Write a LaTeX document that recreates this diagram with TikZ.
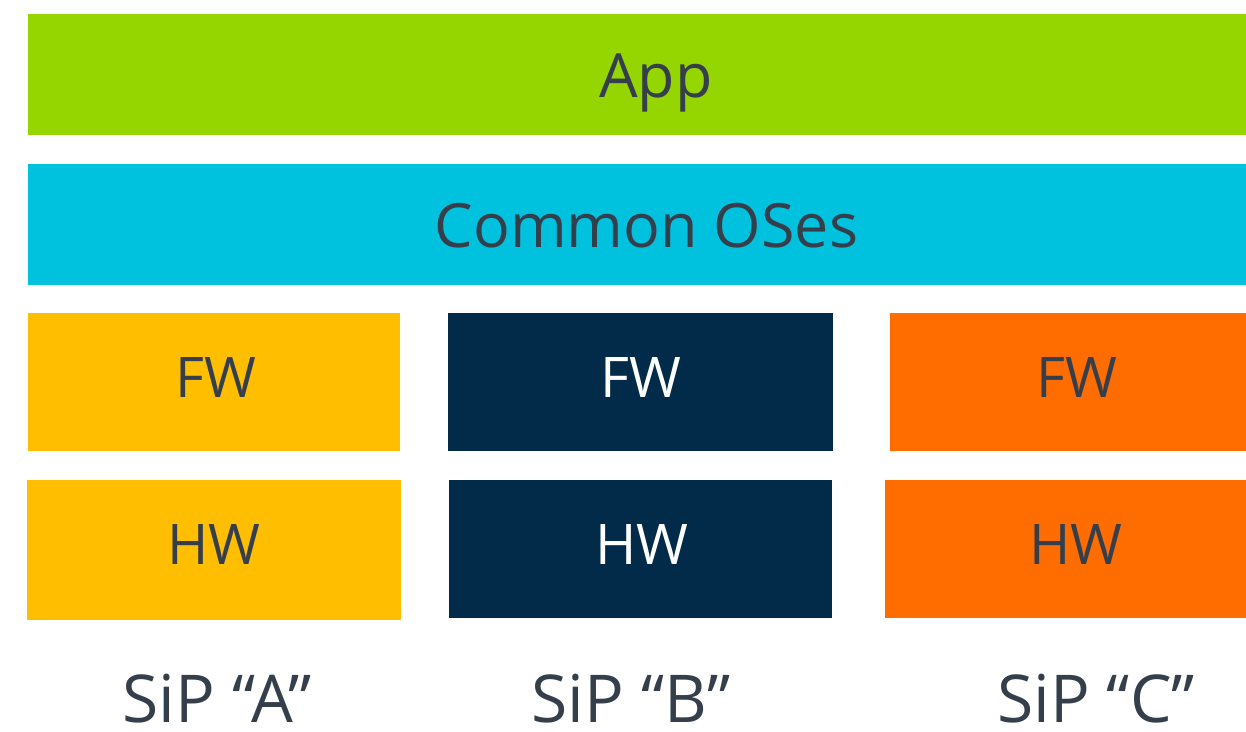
\documentclass[tikz,border=0pt]{standalone}
\usepackage{fontspec}
\setmainfont{Open Sans}
\definecolor{appgreen}{HTML}{96D600}
\definecolor{oscyan}{HTML}{00C1DE}
\definecolor{sipyellow}{HTML}{FFBE00}
\definecolor{sipnavy}{HTML}{012B49}
\definecolor{siporange}{HTML}{FF6C00}
\definecolor{txtgray}{HTML}{353F4B}
\tikzset{
  lbl/.style={anchor=base, inner sep=0pt, text=txtgray},
  big/.style={font=\fontsize{61}{61}\selectfont},
  mid/.style={font=\fontsize{56}{56}\selectfont},
  sip/.style={font=\fontsize{66}{66}\selectfont},
}
\begin{document}
\begin{tikzpicture}[x=1pt,y=-1pt]
\useasboundingbox (0,0) rectangle (1246,731);
% blocks
\fill[appgreen] (28,14) rectangle (1246,135);
\fill[oscyan] (28,164) rectangle (1246,285);
\fill[sipyellow] (28,313) rectangle (400,451);
\fill[sipyellow] (27,480) rectangle (401,620);
\fill[sipnavy] (448,313) rectangle (833,451);
\fill[sipnavy] (449,480) rectangle (832,618);
\fill[siporange] (890,313) rectangle (1246,451);
\fill[siporange] (885,480) rectangle (1246,618);
% labels
\node[lbl,big] (app) at (656,97) {App};
\node[lbl,big] (os) at (646.5,247) {Common OSes};
\node[lbl,mid] (fwa) at (216,397) {FW};
\node[lbl,mid,text=white] (fwb) at (641,397) {FW};
\node[lbl,mid] (fwc) at (1077,397) {FW};
\node[lbl,mid] (hwa) at (214,564) {HW};
\node[lbl,mid,text=white] (hwb) at (642,564) {HW};
\node[lbl,mid] (hwc) at (1076,564) {HW};
\node[lbl,sip] (sipa) at (217,722) {SiP “A”};
\node[lbl,sip] (sipb) at (631,722) {SiP “B”};
\node[lbl,sip] (sipc) at (1096,722) {SiP “C”};
\end{tikzpicture}
\end{document}
